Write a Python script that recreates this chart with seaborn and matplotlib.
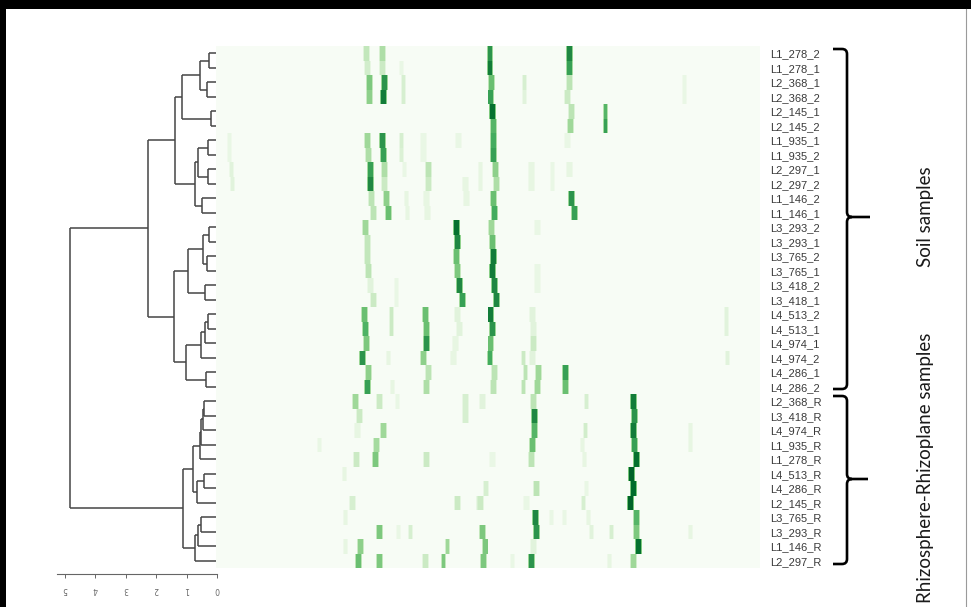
import numpy as np
import pandas as pd
import matplotlib
matplotlib.use("Agg")
import matplotlib.pyplot as plt
from matplotlib.path import Path
from matplotlib.patches import PathPatch, Rectangle
import seaborn as sns

# ---------------------------------------------------------------------------
# Samples, in dendrogram order (top to bottom)
# ---------------------------------------------------------------------------
samples = ["L1_278_2", "L1_278_1", "L2_368_1", "L2_368_2", "L2_145_1", "L2_145_2",
           "L1_935_1", "L1_935_2", "L2_297_1", "L2_297_2", "L1_146_2", "L1_146_1",
           "L3_293_2", "L3_293_1", "L3_765_2", "L3_765_1", "L3_418_2", "L3_418_1",
           "L4_513_2", "L4_513_1", "L4_974_1", "L4_974_2", "L4_286_1", "L4_286_2",
           "L2_368_R", "L3_418_R", "L4_974_R", "L1_935_R", "L1_278_R", "L4_513_R",
           "L4_286_R", "L2_145_R", "L3_765_R", "L3_293_R", "L1_146_R", "L2_297_R"]

n_positions = 545  # positions along the fingerprint profile

# Main bands: position along the profile and relative intensity per sample
# (None = band absent in that sample)
band_a_pos = [150, 151, 153, 153, None, None, 151, 152, 154, 154, 155, 157,
              149, 151, 151, 152, 154, 157, 148, 149, 150, 146, 152, 151,
              139, 143, 141, None, 140, None, None, 136, None, None, 144, 142]
band_a_val = [.28, .22, .50, .45, 0, 0, .40, .35, .70, .80, .30, .30,
              .40, .28, .28, .30, .15, .25, .55, .62, .50, .75, .45, .70,
              .40, .25, .12, 0, .25, 0, 0, .20, 0, 0, .45, .55]

band_b_pos = [166, 166, 168, 167, None, None, 166, 167, 168, 168, 170, 172,
              None, None, None, None, None, None, None, None, None, None, None, None,
              163, None, 167, 160, 159, None, None, None, None, 163, None, 163]
band_b_val = [.35, .25, .75, .85, 0, 0, .75, .70, .35, .25, .45, .55,
              0, 0, 0, 0, 0, 0, 0, 0, 0, 0, 0, 0,
              .25, 0, .40, .38, .50, 0, 0, 0, 0, .50, 0, .50]

band_d_pos = [None, None, None, None, None, None, 207, 207, 212, 212, 210, 211,
              None, None, None, None, None, None, 209, 210, 210, 207, 212, 210,
              None, None, None, None, 210, None, None, None, None, None, None, 209]
band_d_val = [0, 0, 0, 0, 0, 0, .10, .10, .30, .25, .12, .12,
              0, 0, 0, 0, 0, 0, .55, .55, .75, .45, .30, .35,
              0, 0, 0, 0, .25, 0, 0, 0, 0, 0, 0, .25]

band_e_pos = [None, None, None, None, None, None, 242, None, None, 249, 250, None,
              240, 241, 240, 241, 243, 246, 241, 243, 239, 237, None, None,
              249, 249, None, None, None, None, None, 241, None, None, None, None]
band_e_val = [0, 0, 0, 0, 0, 0, .10, 0, 0, .12, .12, 0,
              .90, .80, .55, .50, .80, .70, .15, .15, .12, .12, 0, 0,
              .20, .20, 0, 0, 0, 0, 0, .25, 0, 0, 0, 0]

band_f_pos = [274, 274, 276, 275, 277, 278, 278, 278, 280, 281, 278, 279,
              276, 277, 278, 277, 279, 281, 275, 277, 275, 274, 279, 278,
              266, None, None, None, 277, None, 270, 264, None, 266, 269, 267]
band_f_val = [.75, .85, .55, .70, .90, .60, .65, .70, .45, .35, .55, .65,
              .40, .55, .85, .85, .80, .80, .85, .75, .55, .65, .30, .30,
              .15, 0, 0, 0, .10, 0, .20, .25, 0, .50, .50, .50]

band_h_pos = [None, None, None, None, None, None, None, None, 316, 316, None, None,
              322, None, None, 322, 322, None, 317, 318, 318, 317, 323, 322,
              318, 319, 319, 317, 316, None, 321, 311, 320, 321, 318, 316]
band_h_val = [0, 0, 0, 0, 0, 0, 0, 0, .12, .12, 0, 0,
              .10, 0, 0, .10, .10, 0, .15, .15, .25, .15, .40, .40,
              .30, .80, .60, .55, .30, 0, .30, .10, .80, .75, .15, .75]

band_i_pos = [354, 354, 354, 352, 356, 355, 352, None, 354, None, 356, 359,
              None, None, None, None, None, None, None, None, None, None, 350, 350,
              None, None, None, None, None, None, None, None, None, None, None, None]
band_i_val = [.80, .70, .30, .25, .30, .40, .10, 0, .12, 0, .75, .70,
              0, 0, 0, 0, 0, 0, 0, 0, 0, 0, .70, .55,
              0, 0, 0, 0, 0, 0, 0, 0, 0, 0, 0, 0]

band_l_pos = [None] * 24 + [418, 419, 418, 419, 421, 416, 418, 415, 421, 421, 423, 418]
band_l_val = [0] * 24 + [.85, .75, .85, .70, .90, .95, .92, .95, .60, .50, .90, .40]

# Minor and faint bands: (sample index, position, intensity)
minor_bands = [
    (1, 185, .10), (2, 187, .20), (3, 187, .20), (6, 185, .20), (7, 185, .18),
    (8, 188, .10), (10, 190, .12), (11, 191, .12), (16, 180, .10), (17, 180, .10),
    (18, 175, .25), (19, 175, .25), (21, 172, .12), (23, 176, .12),
    (24, 181, .10), (33, 182, .10), (33, 194, .20),
    (2, 309, .20), (3, 309, .15), (21, 308, .25), (22, 310, .30), (23, 308, .30),
    (4, 390, .60), (5, 390, .70),
    (24, 371, .20), (26, 370, .22), (27, 367, .12), (28, 369, .12), (30, 371, .10),
    (31, 368, .20), (32, 373, .12), (33, 376, .15),
    (26, 475, .12), (27, 475, .12), (33, 475, .12), (2, 469, .10), (3, 469, .10),
    (18, 511, .15), (19, 511, .15), (21, 512, .15),
    (35, 297, .10), (35, 394, .12), (33, 396, .20), (32, 336, .10), (32, 349, .10),
    (6, 13, .10), (7, 13, .10), (8, 15, .15), (9, 16, .15),
    (31, 262, .20), (29, 128, .12), (32, 129, .12), (34, 129, .12), (27, 103, .10),
    (34, 231, .40), (35, 227, .50), (8, 337, .10), (9, 337, .10),
    (8, 264, .12), (9, 264, .12),
]

# Hierarchical clustering merges: (child, child, distance); ids >= 36 are merges
merges = [
    (0, 1, 0.26), (2, 3, 0.33), (36, 37, 0.55), (4, 5, 0.20), (38, 39, 1.15),
    (6, 7, 0.30), (8, 9, 0.30), (41, 42, 0.61), (10, 11, 0.49), (43, 44, 0.71),
    (40, 45, 1.38),
    (12, 13, 0.27), (14, 15, 0.32), (47, 48, 0.46), (16, 17, 0.39), (49, 50, 0.94),
    (18, 19, 0.30), (52, 20, 0.41), (53, 21, 0.52), (22, 23, 0.35), (54, 55, 1.02),
    (51, 56, 1.42), (46, 57, 2.26),
    (24, 25, 0.42), (59, 26, 0.46), (60, 27, 0.53), (61, 28, 0.56),
    (29, 30, 0.43), (63, 31, 0.66), (62, 64, 0.79),
    (32, 33, 0.52), (66, 34, 0.63), (67, 35, 0.74), (65, 68, 1.13),
    (58, 69, 4.82),
]

distance_ticks = [0, 1, 2, 3, 4, 5]

# ---------------------------------------------------------------------------
# Build the intensity matrix
# ---------------------------------------------------------------------------
n = len(samples)
matrix = np.zeros((n, n_positions))


def add_band(row, pos, val, half=3):
    lo, hi = max(pos - half, 0), min(pos + half, n_positions - 1)
    for c in range(lo, hi + 1):
        w = 1.0 if abs(c - pos) < half else 0.55
        matrix[row, c] = max(matrix[row, c], val * w)


for pos_list, val_list in [(band_a_pos, band_a_val), (band_b_pos, band_b_val),
                           (band_d_pos, band_d_val), (band_e_pos, band_e_val),
                           (band_f_pos, band_f_val), (band_h_pos, band_h_val),
                           (band_i_pos, band_i_val), (band_l_pos, band_l_val)]:
    for r, (p, v) in enumerate(zip(pos_list, val_list)):
        if p is not None and v > 0:
            add_band(r, p, v)

for r, p, v in minor_bands:
    add_band(r, p, v, half=2)

df = pd.DataFrame(matrix, index=samples)

# ---------------------------------------------------------------------------
# Figure
# ---------------------------------------------------------------------------
W, H = 971, 607
fig = plt.figure(figsize=(W / 100, H / 100), dpi=100)
fig.patch.set_facecolor("white")


def px_axes(x0, y0, x1, y1, **kw):
    return fig.add_axes([x0 / W, 1 - y1 / H, (x1 - x0) / W, (y1 - y0) / H], **kw)


hm_top, hm_bot = 46, 568
row_h = (hm_bot - hm_top) / n

# Heatmap
ax_hm = px_axes(216, hm_top, 760, hm_bot)
sns.heatmap(df, ax=ax_hm, cmap="Greens", vmin=0, vmax=1.05, cbar=False,
            xticklabels=False, yticklabels=samples, linewidths=0,
            rasterized=True)
ax_hm.yaxis.tick_right()
ax_hm.tick_params(axis="y", length=0, pad=7, labelsize=8, labelcolor="#3a3a3a")
for t in ax_hm.get_yticklabels():
    t.set_rotation(0)
    t.set_fontfamily("Liberation Sans")
ax_hm.set_xlabel("")
ax_hm.set_ylabel("")

# Dendrogram
axis_y = 574
zero_x, px_per_unit = 217, 30.4
ax_d = px_axes(56.7, hm_top, zero_x, axis_y)
ax_d.set_ylim(n + (axis_y - hm_bot) / row_h, 0)
ax_d.set_xlim((zero_x - 56.7) / px_per_unit, 0)

node_y = {i: i + 0.5 for i in range(n)}
node_h = {i: 0.0 for i in range(n)}
line_kw = dict(color="#454545", lw=1.1, solid_capstyle="butt")
for k, (a, b, h) in enumerate(merges):
    nid = n + k
    ya, yb = node_y[a], node_y[b]
    ax_d.plot([node_h[a], h], [ya, ya], **line_kw)
    ax_d.plot([node_h[b], h], [yb, yb], **line_kw)
    ax_d.plot([h, h], [ya, yb], **line_kw)
    node_y[nid] = (ya + yb) / 2
    node_h[nid] = h

for side in ["top", "right", "left"]:
    ax_d.spines[side].set_visible(False)
ax_d.spines["bottom"].set_color("#666666")
ax_d.spines["bottom"].set_linewidth(0.8)
ax_d.set_yticks([])
ax_d.set_xticks(distance_ticks)
ax_d.set_xticklabels([str(t) for t in distance_ticks], rotation=180,
                     fontsize=5.5, color="#666666")
ax_d.tick_params(axis="x", length=3, width=0.7, color="#666666", pad=5)
ax_d.patch.set_alpha(0)
ax_hm.set_zorder(2)

# Overlay in pixel coordinates for braces, group titles and frame
ov = fig.add_axes([0, 0, 1, 1], zorder=10)
ov.set_xlim(0, W)
ov.set_ylim(H, 0)
ov.axis("off")
ov.patch.set_alpha(0)


def brace(x, y0, y1, ym, tip, hook=14, r=5):
    verts = [(x - hook, y0), (x - r, y0), (x, y0), (x, y0 + r),
             (x, ym - r), (x, ym), (x + r, ym), (tip, ym),
             (x + r, ym), (x, ym), (x, ym + r),
             (x, y1 - r), (x, y1), (x - r, y1), (x - hook, y1)]
    codes = [Path.MOVETO, Path.LINETO, Path.CURVE3, Path.CURVE3,
             Path.LINETO, Path.CURVE3, Path.CURVE3, Path.LINETO,
             Path.MOVETO, Path.CURVE3, Path.CURVE3,
             Path.LINETO, Path.CURVE3, Path.CURVE3, Path.LINETO]
    ov.add_patch(PathPatch(Path(verts, codes), fill=False, lw=1.9,
                           edgecolor="black", capstyle="butt"))


brace(847, 49, 389, 217, 870)
brace(847, 396, 564, 479, 868)

title_kw = dict(rotation=90, ha="center", va="center", fontsize=13.5,
                family="Lato", color="#1a1a1a")
ov.text(925, 217, "Soil samples", **title_kw)
ov.text(925, 468, "Rhizosphere-Rhizoplane samples", **title_kw)

# Frame around the figure
ov.add_patch(Rectangle((0, 0), W, 9, color="black", lw=0))
ov.add_patch(Rectangle((0, 0), 6, H, color="black", lw=0))
ov.plot([966, 966], [9, H], color="#9a9a9a", lw=0.8)

fig.savefig("out.png", dpi=100)
